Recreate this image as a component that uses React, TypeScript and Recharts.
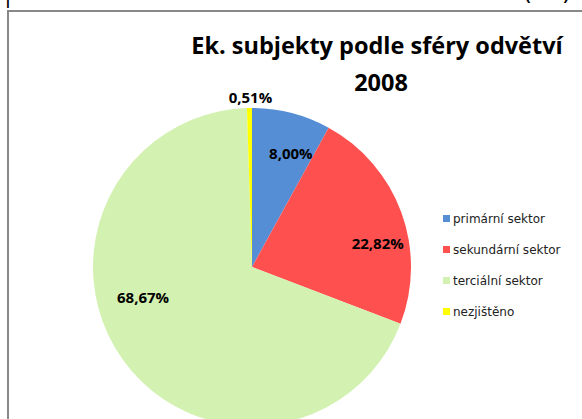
import React from "react";
import { PieChart, Pie, Cell, Legend } from "recharts";

const categories = ["primární sektor", "sekundární sektor", "terciální sektor", "nezjištěno"];
const shares = [8.0, 22.82, 68.67, 0.51];
const labels = ["8,00%", "22,82%", "68,67%", "0,51%"];
const colors = ["#558ED5", "#FF5050", "#D3F1B1", "#FFFF00"];

// label placement styling (Excel "best fit")
const labelAngleShift = [4.5, 9.3, 20, 0.4];
const labelRadius = [120, 128, 113, 170];

const data = categories.map((name, i) => ({ name, value: shares[i], label: labels[i] }));

const RAD = Math.PI / 180;

const renderLabel = (p: any) => {
  const i = p.index;
  const theta = (90 - p.midAngle + labelAngleShift[i]) * RAD;
  const r = labelRadius[i];
  const x = p.cx + r * Math.sin(theta);
  const y = p.cy - r * Math.cos(theta);
  return (
    <text
      x={x}
      y={y}
      textAnchor="middle"
      dominantBaseline="central"
      fontFamily="'Open Sans', sans-serif"
      fontWeight={700}
      fontSize={15}
      fill="#000"
    >
      {data[i].label}
    </text>
  );
};

const LegendContent = () => (
  <div style={{ fontFamily: "'DejaVu Sans', sans-serif", fontSize: 12, color: "#222" }}>
    {data.map((d, i) => (
      <div key={d.name} style={{ display: "flex", alignItems: "center", height: 31 }}>
        <span style={{ width: 7, height: 7, background: colors[i], display: "inline-block", marginRight: 3 }} />
        <span>{d.name}</span>
      </div>
    ))}
  </div>
);

export default function App() {
  return (
    <div style={{ position: "absolute", left: 0, top: 0, width: 582, height: 419, overflow: "hidden", background: "#fff" }}>
      <div style={{ position: "absolute", left: 7, top: 10, width: 600, height: 500, borderLeft: "2px solid #888", borderTop: "2px solid #888", boxSizing: "border-box" }} />
      <div style={{ position: "absolute", left: 0, top: 0 }}>
        <PieChart width={582} height={419}>
          <text x={8} y={4} textAnchor="middle" fontFamily="'Open Sans', sans-serif" fontWeight={700} fontSize={16} fill="#000">|</text>
          <text x={528} y={1} textAnchor="middle" fontFamily="'Open Sans', sans-serif" fontWeight={700} fontSize={16} fill="#000">(</text>
          <text x={566} y={1} textAnchor="middle" fontFamily="'Open Sans', sans-serif" fontWeight={700} fontSize={16} fill="#000">)</text>
          <text x={377} y={45} textAnchor="middle" dominantBaseline="central" fontFamily="'Open Sans', sans-serif" fontWeight={700} fontSize={23.5} fill="#000">
            Ek. subjekty podle sféry odvětví
          </text>
          <text x={381} y={82} textAnchor="middle" dominantBaseline="central" fontFamily="'Open Sans', sans-serif" fontWeight={700} fontSize={23.5} fill="#000">
            2008
          </text>
          <Pie
            data={data}
            dataKey="value"
            nameKey="name"
            cx={247}
            cy={262}
            outerRadius={159}
            startAngle={90}
            endAngle={-270}
            stroke="none"
            isAnimationActive={false}
            labelLine={false}
            label={renderLabel}
          >
            {data.map((d, i) => (
              <Cell key={d.name} fill={colors[i]} />
            ))}
          </Pie>
          <Legend
            layout="vertical"
            align="right"
            verticalAlign="top"
            content={<LegendContent />}
            wrapperStyle={{ position: "absolute", left: 443, top: 203, width: 140 }}
          />
        </PieChart>
      </div>
    </div>
  );
}
